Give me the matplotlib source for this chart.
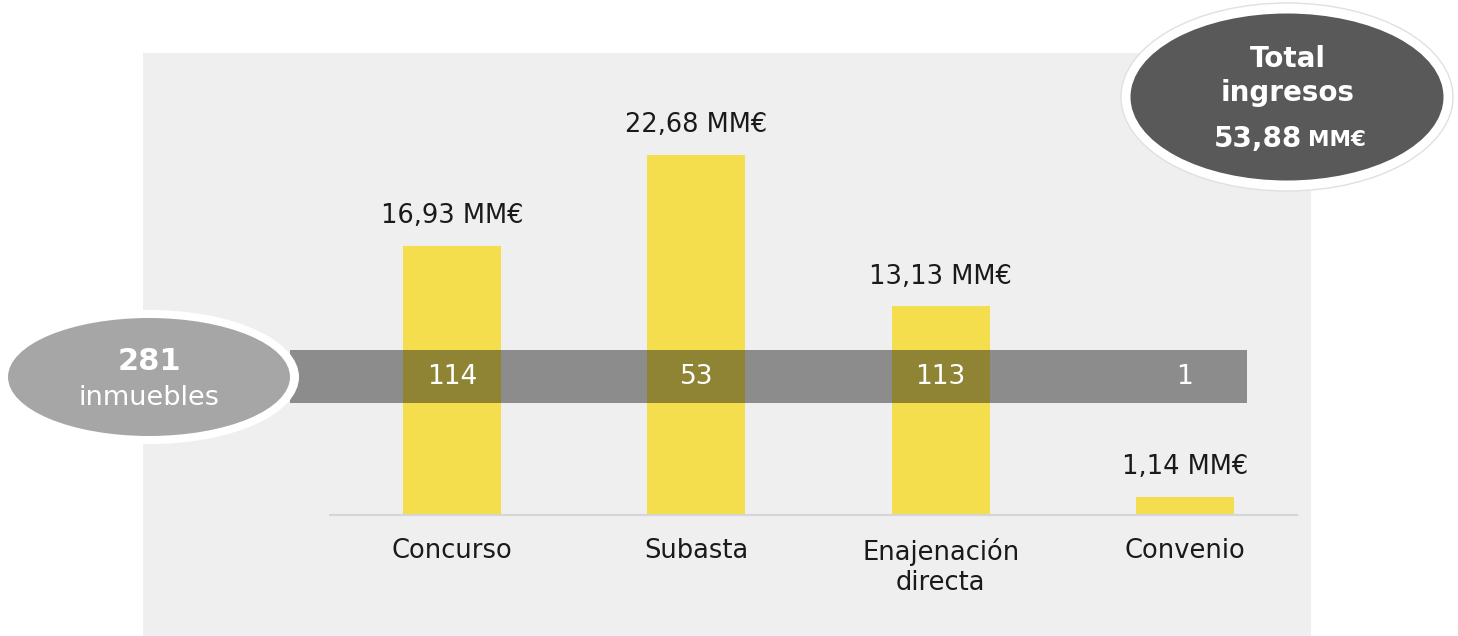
import matplotlib
matplotlib.use("Agg")
import matplotlib.pyplot as plt
from matplotlib.patches import Rectangle, Ellipse

# ---- data ----
categories = ["Concurso", "Subasta", "Enajenación\ndirecta", "Convenio"]
ingresos = [16.93, 22.68, 13.13, 1.14]          # MM€
inmuebles = [114, 53, 113, 1]
total_inmuebles = 281
total_ingresos = 53.88

W, H = 1458, 636
fig = plt.figure(figsize=(W / 100, H / 100), dpi=100)
fig.patch.set_facecolor("white")
plt.rcParams['font.family'] = ['DejaVu Sans']

def fx(px):
    return px / W

def fy(py):
    return 1 - py / H

# light panel
fig.patches.append(Rectangle((fx(143), 0), fx(1311) - fx(143), fy(53), transform=fig.transFigure,
                             facecolor="#efefef", edgecolor="none", zorder=-5))

# axes: baseline at y=515, from x=330 to 1297
ax_left, ax_right = 330, 1297
ax_bottom, ax_top = 515, 60
ax = fig.add_axes([fx(ax_left), fy(ax_bottom), fx(ax_right - ax_left), (ax_bottom - ax_top) / H])
ax.set_zorder(1)
ax.set_facecolor("none")
px_per_unit = 15.88
ax.set_ylim(0, (ax_bottom - ax_top) / px_per_unit)
spacing = 244.3
ax.set_xlim(-(452 - ax_left) / spacing, 3 + (ax_right - 1185) / spacing)

x = list(range(len(categories)))
bars = ax.bar(x, ingresos, width=0.40, color="#f4de4e", zorder=2)
for xi, v in zip(x, ingresos):
    ax.annotate(f"{v:.2f}".replace(".", ",") + " MM€", (xi, v), xytext=(0, 21.5),
                textcoords="offset points", ha="center", va="center",
                fontsize=18.5, color="#1a1a1a")

for s in ["top", "right", "left"]:
    ax.spines[s].set_visible(False)
ax.spines["bottom"].set_color("#d6d6d6")
ax.spines["bottom"].set_linewidth(1.5)
ax.set_yticks([])
ax.set_xticks(x, categories)
ax.tick_params(axis="x", length=0, pad=16.5, labelsize=18.5, labelcolor="#1a1a1a")

# grey band with counts
band_y0 = (ax_bottom - 403) / px_per_unit
band_y1 = (ax_bottom - 350) / px_per_unit
band_x0 = (290 - 452) / spacing
band_x1 = (1247 - 452) / spacing
ax.add_patch(Rectangle((band_x0, band_y0), band_x1 - band_x0, band_y1 - band_y0,
                       facecolor="#151515", alpha=0.45, edgecolor="none", zorder=3, clip_on=False))
for xi, n in zip(x, inmuebles):
    ax.text(xi, (band_y0 + band_y1) / 2, str(n), ha="center", va="center",
            fontsize=19, color="white", zorder=4)

# left ellipse
fig.patches.append(Ellipse((fx(150), fy(377)), fx(298), 134 / H, transform=fig.transFigure,
                           facecolor="white", edgecolor="none", zorder=5))
fig.patches.append(Ellipse((fx(149), fy(377)), fx(282), 118 / H, transform=fig.transFigure,
                           facecolor="#a6a6a6", edgecolor="none", zorder=6))
fig.text(fx(149), fy(361), str(total_inmuebles), ha="center", va="center", fontsize=22,
         fontweight="bold", color="white", zorder=7)
fig.text(fx(149), fy(398), "inmuebles", ha="center", va="center", fontsize=19.5,
         color="white", zorder=7)

# right ellipse
fig.patches.append(Ellipse((fx(1287), fy(97)), fx(332), 188 / H, transform=fig.transFigure,
                           facecolor="white", edgecolor="#e0e0e0", linewidth=1.0, zorder=5))
fig.patches.append(Ellipse((fx(1287), fy(97)), fx(313), 167 / H, transform=fig.transFigure,
                           facecolor="#595959", edgecolor="none", zorder=6))
fig.text(fx(1288), fy(59), "Total", ha="center", va="center", fontsize=20,
         fontweight="bold", color="white", zorder=7)
fig.text(fx(1288), fy(93), "ingresos", ha="center", va="center", fontsize=20,
         fontweight="bold", color="white", zorder=7)
fig.text(fx(1302), fy(139), f"{total_ingresos:.2f}".replace(".", ","), ha="right", va="center",
         fontsize=20, fontweight="bold", color="white", zorder=7)
fig.text(fx(1308), fy(140), "MM€", ha="left", va="center",
         fontsize=15.5, fontweight="bold", color="white", zorder=7)

fig.savefig("out.png", dpi=100)
